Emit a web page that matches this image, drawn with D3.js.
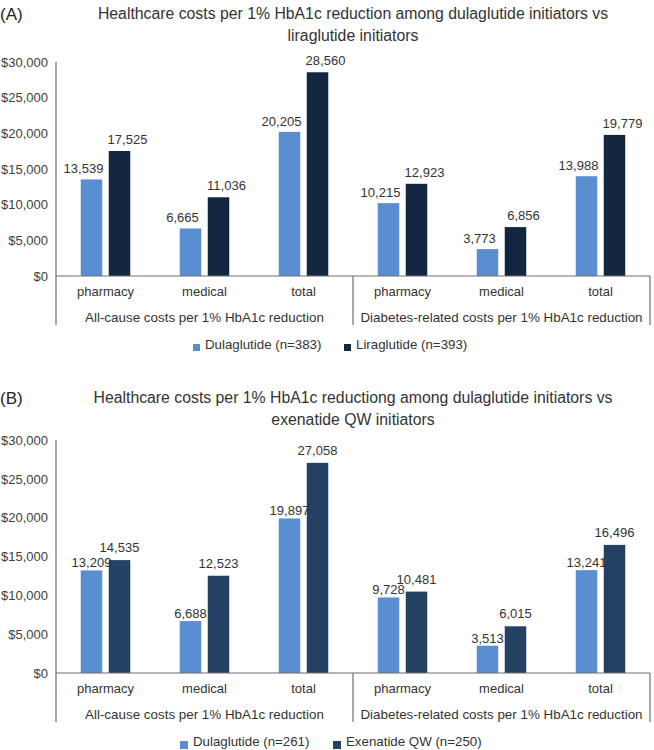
<!DOCTYPE html>
<html><head><meta charset="utf-8">
<script src="https://cdn.jsdelivr.net/npm/d3@7"></script>
<style>
html,body{margin:0;padding:0;background:#fff;}
text{font-family:"Liberation Sans",Arial,Helvetica,sans-serif;}
</style></head>
<body>
<svg id="chart" width="654" height="750"></svg>
<script>
// ---- data ----
const categories = ["pharmacy","medical","total","pharmacy","medical","total"];
const groups = ["All-cause costs per 1% HbA1c reduction","Diabetes-related costs per 1% HbA1c reduction"];
const yTicks = [0,5000,10000,15000,20000,25000,30000];

const titleA = ["Healthcare costs per 1% HbA1c reduction among dulaglutide initiators vs","liraglutide initiators"];
const seriesNamesA = ["Dulaglutide (n=383)","Liraglutide (n=393)"];
const dulaA = [13539,6665,20205,10215,3773,13988];
const liraA = [17525,11036,28560,12923,6856,19779];

const titleB = ["Healthcare costs per 1% HbA1c reductiong among dulaglutide initiators vs","exenatide QW initiators"];
const seriesNamesB = ["Dulaglutide (n=261)","Exenatide QW (n=250)"];
const dulaB = [13209,6688,19897,9728,3513,13241];
const exenB = [14535,12523,27058,10481,6015,16496];

const svg = d3.select("#chart");
const fmt = d3.format(",");
const tickFmt = v => "$" + d3.format(",")(v);

function drawPanel(o){
  const g = svg.append("g");
  const x0 = 56, x1 = 650;
  const y = d3.scaleLinear().domain([0,30000]).range([o.base,o.top]);
  const idx = d3.range(categories.length);
  const xo = d3.scaleBand().domain(idx).range([x0,x1]).paddingInner(0.5).paddingOuter(0.25);
  const xi = d3.scaleBand().domain([0,1]).range([0,xo.bandwidth()]).paddingInner(0.232).paddingOuter(0);

  // panel letter and title
  g.append("text").attr("x",0).attr("y",o.titleY+1).attr("font-size",17).attr("fill","#222").text(o.letter);
  o.title.forEach((t,i)=>{
    g.append("text").attr("x",(x0+x1)/2).attr("y",o.titleY+i*21.5).attr("text-anchor","middle")
      .attr("font-size",15.8).attr("fill","#333").text(t);
  });

  // y axis labels
  const ya = d3.axisLeft(y).tickValues(yTicks).tickFormat(tickFmt).tickSize(0).tickPadding(8);
  const yg = g.append("g").attr("transform",`translate(${x0},0)`).call(ya);
  yg.select(".domain").remove();
  yg.selectAll("text").attr("font-size",13).attr("fill","#404040").attr("font-family",'"Liberation Sans",Arial,sans-serif');

  // bars
  const series = [o.s1,o.s2];
  const colors = ["#5b8ed0",o.dark];
  series.forEach((vals,si)=>{
    g.selectAll(null).data(vals).enter().append("rect")
      .attr("x",(d,i)=>xo(i)+xi(si)).attr("width",xi.bandwidth())
      .attr("y",d=>y(d)).attr("height",d=>y(0)-y(d)).attr("fill",colors[si]);
  });
  series.forEach((vals,si)=>{
    g.selectAll(null).data(vals).enter().append("text")
      .attr("x",(d,i)=>xo(i)+xi(si)+xi.bandwidth()/2+o.lblDx[si])
      .attr("y",d=>y(d)-o.lblOff[si])
      .attr("text-anchor","middle").attr("font-size",13).attr("fill","#333")
      .text(d=>fmt(d));
  });

  // axis lines
  const lc = "#6f6f6f";
  const bottom = o.base + 49;
  g.append("line").attr("x1",x0).attr("x2",x1).attr("y1",y(0)).attr("y2",y(0)).attr("stroke",lc).attr("stroke-width",1.2);
  g.append("line").attr("x1",x0).attr("x2",x0).attr("y1",y(30000)).attr("y2",bottom).attr("stroke",lc).attr("stroke-width",1.2);
  const mid = (xo(2)+xo.bandwidth()+xo(3))/2;
  g.append("line").attr("x1",mid).attr("x2",mid).attr("y1",y(0)).attr("y2",bottom).attr("stroke",lc).attr("stroke-width",1.2);
  g.append("line").attr("x1",x1).attr("x2",x1).attr("y1",y(0)).attr("y2",bottom).attr("stroke",lc).attr("stroke-width",1.2);

  // category labels
  g.selectAll(null).data(categories).enter().append("text")
    .attr("x",(d,i)=>xo(i)+xo.bandwidth()/2).attr("y",o.base+20)
    .attr("text-anchor","middle").attr("font-size",13).attr("fill","#333").text(d=>d);
  // group labels
  groups.forEach((t,gi)=>{
    const cx = gi===0 ? (x0+mid)/2 : (mid+x1)/2;
    g.append("text").attr("x",cx).attr("y",o.base+46).attr("text-anchor","middle")
      .attr("font-size",13.4).attr("fill","#333").text(t);
  });

  // legend
  o.names.forEach((n,si)=>{
    const lx = o.legX[si];
    g.append("rect").attr("x",lx).attr("y",o.base+68).attr("width",o.sq).attr("height",o.sq).attr("fill",colors[si]);
    g.append("text").attr("x",lx+o.sq+5).attr("y",o.base+73).attr("font-size",13.3).attr("fill","#333").text(n);
  });
}

drawPanel({letter:"(A)",title:titleA,titleY:19,top:62,base:276,s1:dulaA,s2:liraA,dark:"#12263f",
  names:seriesNamesA,lblOff:[6,7],lblDx:[-8,8],legX:[193,344],sq:7});
drawPanel({letter:"(B)",title:titleB,titleY:403,top:440,base:673,s1:dulaB,s2:exenB,dark:"#244163",
  names:seriesNamesB,lblOff:[3,8],lblDx:[0,0],legX:[180,333],sq:8});
</script>
</body></html>
